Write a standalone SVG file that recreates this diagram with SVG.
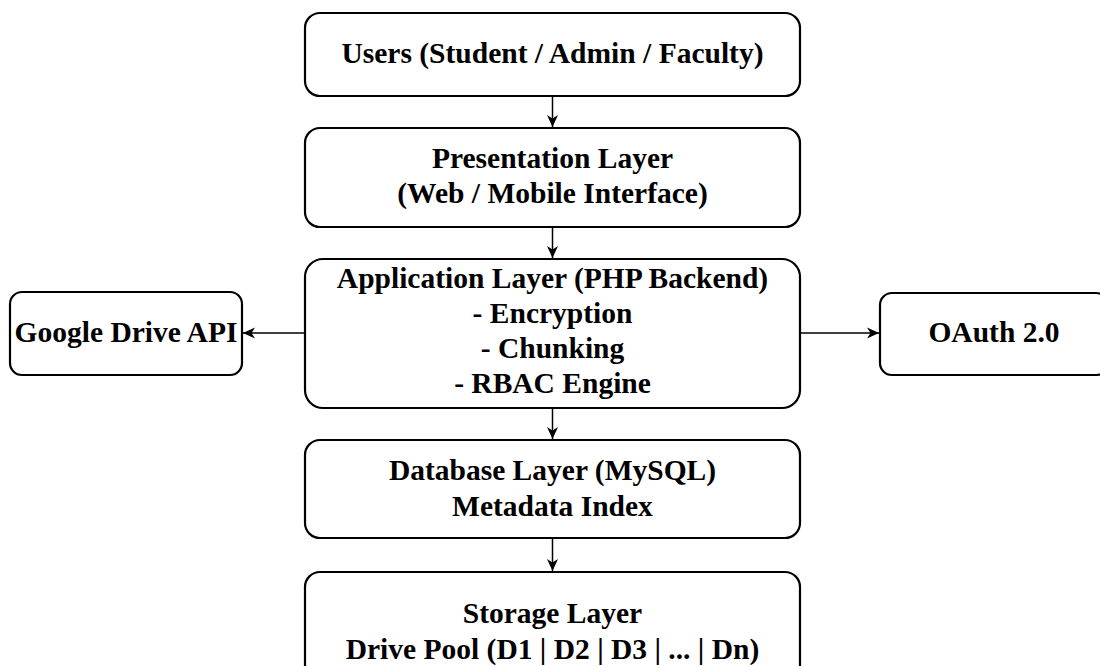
<svg xmlns="http://www.w3.org/2000/svg" width="1100" height="666" viewBox="0 0 1100 666">
  <style>
    .box { fill: #ffffff; stroke: #000000; stroke-width: 2.2; }
    .lbl { font-family: 'Liberation Serif', 'DejaVu Serif', serif; font-weight: bold; font-size: 29.5px; fill: #000000; text-anchor: middle; }
    .edge { fill: none; stroke: #000000; stroke-width: 1.5; marker-end: url(#arrow); }
  </style>
  <defs>
    <marker id="arrow" markerUnits="userSpaceOnUse" markerWidth="12" markerHeight="12" viewBox="0 0 12 12" refX="12" refY="6" orient="auto">
      <path d="M0,0.5 L12,6 L0,11.5 L3.5,6 Z" fill="#000000"/>
    </marker>
  </defs>
  <rect width="1100" height="666" fill="#ffffff"/>

  <g id="connectors">
    <line class="edge" x1="552.5" y1="96" x2="552.5" y2="127"/>
    <line class="edge" x1="552.5" y1="227" x2="552.5" y2="258"/>
    <line class="edge" x1="552.5" y1="408" x2="552.5" y2="439"/>
    <line class="edge" x1="552.5" y1="538" x2="552.5" y2="571"/>
    <line class="edge" x1="305" y1="333" x2="243" y2="333"/>
    <line class="edge" x1="800" y1="333" x2="879" y2="333"/>
  </g>

  <g id="users">
    <rect class="box" x="305" y="13" width="495" height="83" rx="15"/>
    <text class="lbl" x="552.5" y="63">Users (Student / Admin / Faculty)</text>
  </g>

  <g id="presentation">
    <rect class="box" x="305" y="128" width="495" height="99" rx="15"/>
    <text class="lbl" x="552.5" y="168">Presentation Layer</text>
    <text class="lbl" x="552.5" y="203">(Web / Mobile Interface)</text>
  </g>

  <g id="application">
    <rect class="box" x="305" y="259" width="495" height="149" rx="18"/>
    <text class="lbl" x="552.5" y="288">Application Layer (PHP Backend)</text>
    <text class="lbl" x="552.5" y="323">- Encryption</text>
    <text class="lbl" x="552.5" y="358">- Chunking</text>
    <text class="lbl" x="552.5" y="393">- RBAC Engine</text>
  </g>

  <g id="database">
    <rect class="box" x="305" y="440" width="495" height="98" rx="15"/>
    <text class="lbl" x="552.5" y="480">Database Layer (MySQL)</text>
    <text class="lbl" x="552.5" y="516">Metadata Index</text>
  </g>

  <g id="storage">
    <rect class="box" x="305" y="572" width="495" height="112" rx="15"/>
    <text class="lbl" x="552.5" y="623">Storage Layer</text>
    <text class="lbl" x="552.5" y="659">Drive Pool (D1 | D2 | D3 | ... | Dn)</text>
  </g>

  <g id="google-drive">
    <rect class="box" x="10" y="292" width="232" height="83" rx="12"/>
    <text class="lbl" x="126" y="342">Google Drive API</text>
  </g>

  <g id="oauth">
    <rect class="box" x="880" y="293" width="228" height="82" rx="12"/>
    <text class="lbl" x="994" y="342">OAuth 2.0</text>
  </g>
</svg>
